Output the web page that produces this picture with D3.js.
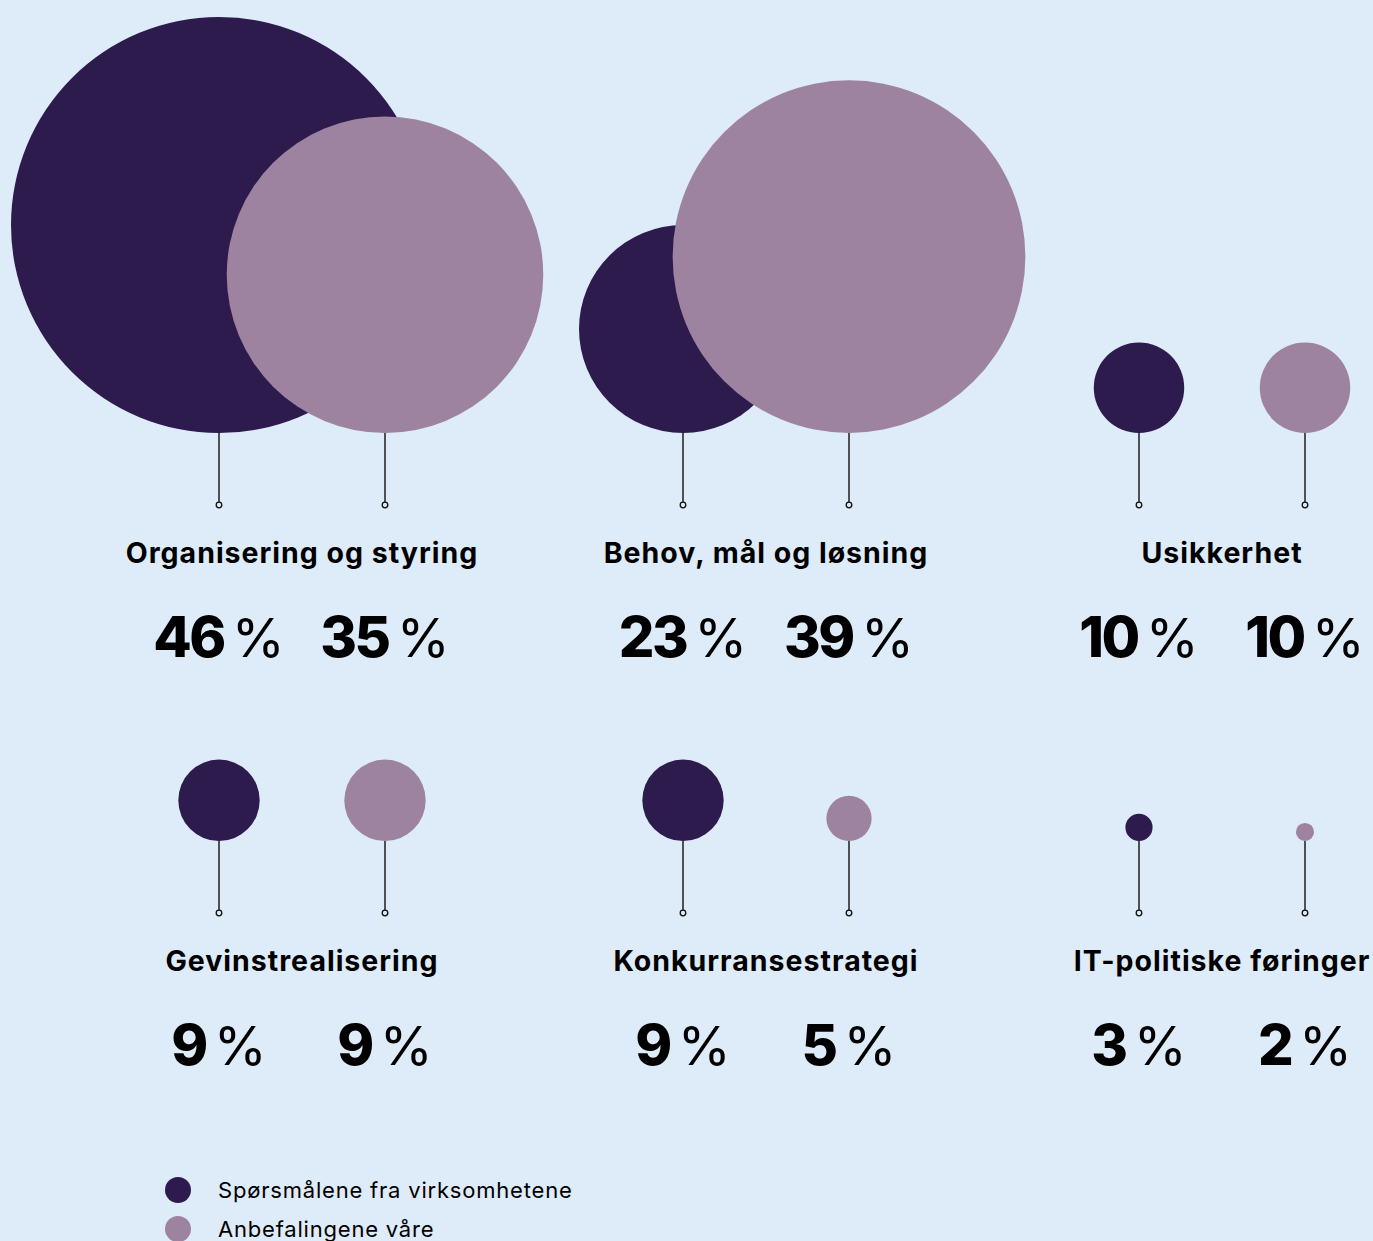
<!DOCTYPE html>
<html>
<head>
<meta charset="utf-8">
<script src="https://cdn.jsdelivr.net/npm/d3@7"></script>
<style>
	html, body { margin: 0; padding: 0; background: #deebf8; }
	svg { display: block; font-family: Inter, Lato, "Noto Sans", sans-serif; }
</style>
</head>
<body>
<svg id="chart"></svg>
<script>
// Data
const categories = [
	'Organisering og styring',
	'Behov, mål og løsning',
	'Usikkerhet',
	'Gevinstrealisering',
	'Konkurransestrategi',
	'IT-politiske føringer',
];
const questions = [ 46, 23, 10, 9, 9, 3 ];
const recommendations = [ 35, 39, 10, 9, 5, 2 ];
const seriesNames = [ 'Spørsmålene fra virksomhetene', 'Anbefalingene våre' ];
const seriesColors = [ '#2e1b4d', '#9d83a0' ];

const width = 1373;
const height = 1241;

const svg = d3.select( '#chart' )
	.attr( 'width', width )
	.attr( 'height', height );

svg.append( 'rect' )
	.attr( 'width', width )
	.attr( 'height', height )
	.attr( 'fill', '#deebf8' );

// layout scales
const colX = d3.scaleOrdinal().domain( [ 0, 1, 2 ] ).range( [ 302, 766, 1222 ] );
const rowY = d3.scaleOrdinal().domain( [ 0, 1 ] ).range( [ 433, 841 ] );
const pairOffset = 83;
const r = d3.scaleLinear().domain( [ 0, 46 ] ).range( [ 0, 208 ] );
const stemLen = 72;

const items = categories.map( ( name, i ) => ( {
	name,
	col: i % 3,
	row: Math.floor( i / 3 ),
	values: [ questions[ i ], recommendations[ i ] ],
} ) );

const groups = svg.selectAll( 'g.cat' )
	.data( items )
	.enter()
	.append( 'g' )
	.attr( 'class', 'cat' )
	.attr( 'transform', ( d ) => `translate(${ colX( d.col ) },${ rowY( d.row ) })` );

// stems + bubbles, dark first so the light one lies on top
[ 0, 1 ].forEach( ( s ) => {
	const dx = s === 0 ? -pairOffset : pairOffset;

	groups.append( 'line' )
		.attr( 'x1', dx )
		.attr( 'x2', dx )
		.attr( 'y1', 0 )
		.attr( 'y2', stemLen )
		.attr( 'stroke', '#111' )
		.attr( 'stroke-width', 1.4 );

	groups.append( 'circle' )
		.attr( 'cx', dx )
		.attr( 'cy', stemLen )
		.attr( 'r', 2.8 )
		.attr( 'fill', '#deebf8' )
		.attr( 'stroke', '#111' )
		.attr( 'stroke-width', 1.3 );

	groups.append( 'circle' )
		.attr( 'cx', dx )
		.attr( 'cy', ( d ) => -r( d.values[ s ] ) )
		.attr( 'r', ( d ) => r( d.values[ s ] ) )
		.attr( 'fill', seriesColors[ s ] );

	const pct = groups.append( 'text' )
		.attr( 'x', dx )
		.attr( 'y', 224 )
		.attr( 'text-anchor', 'middle' )
		.attr( 'fill', '#000' );
	pct.append( 'tspan' )
		.attr( 'font-size', 56 )
		.attr( 'font-weight', 800 )
		.attr( 'letter-spacing', -2.5 )
		.text( ( d ) => d.values[ s ] );
	pct.append( 'tspan' )
		.attr( 'dx', 8 )
		.attr( 'font-size', 54 )
		.attr( 'font-weight', 400 )
		.text( '%' );
} );

groups.append( 'text' )
	.attr( 'x', 0 )
	.attr( 'y', 130 )
	.attr( 'text-anchor', 'middle' )
	.attr( 'font-size', 28.5 )
	.attr( 'font-weight', 700 )
	.attr( 'letter-spacing', 1 )
	.attr( 'fill', '#000' )
	.text( ( d ) => d.name );

// legend
const legend = svg.append( 'g' )
	.attr( 'transform', 'translate(178,1190)' );

const legendItems = legend.selectAll( 'g' )
	.data( seriesNames )
	.enter()
	.append( 'g' )
	.attr( 'transform', ( d, i ) => `translate(0,${ i * 39 })` );

legendItems.append( 'circle' )
	.attr( 'r', 13 )
	.attr( 'fill', ( d, i ) => seriesColors[ i ] );

legendItems.append( 'text' )
	.attr( 'x', 40 )
	.attr( 'y', 8 )
	.attr( 'font-size', 22 )
	.attr( 'letter-spacing', 0.8 )
	.attr( 'fill', '#000' )
	.text( ( d ) => d );
</script>
</body>
</html>
